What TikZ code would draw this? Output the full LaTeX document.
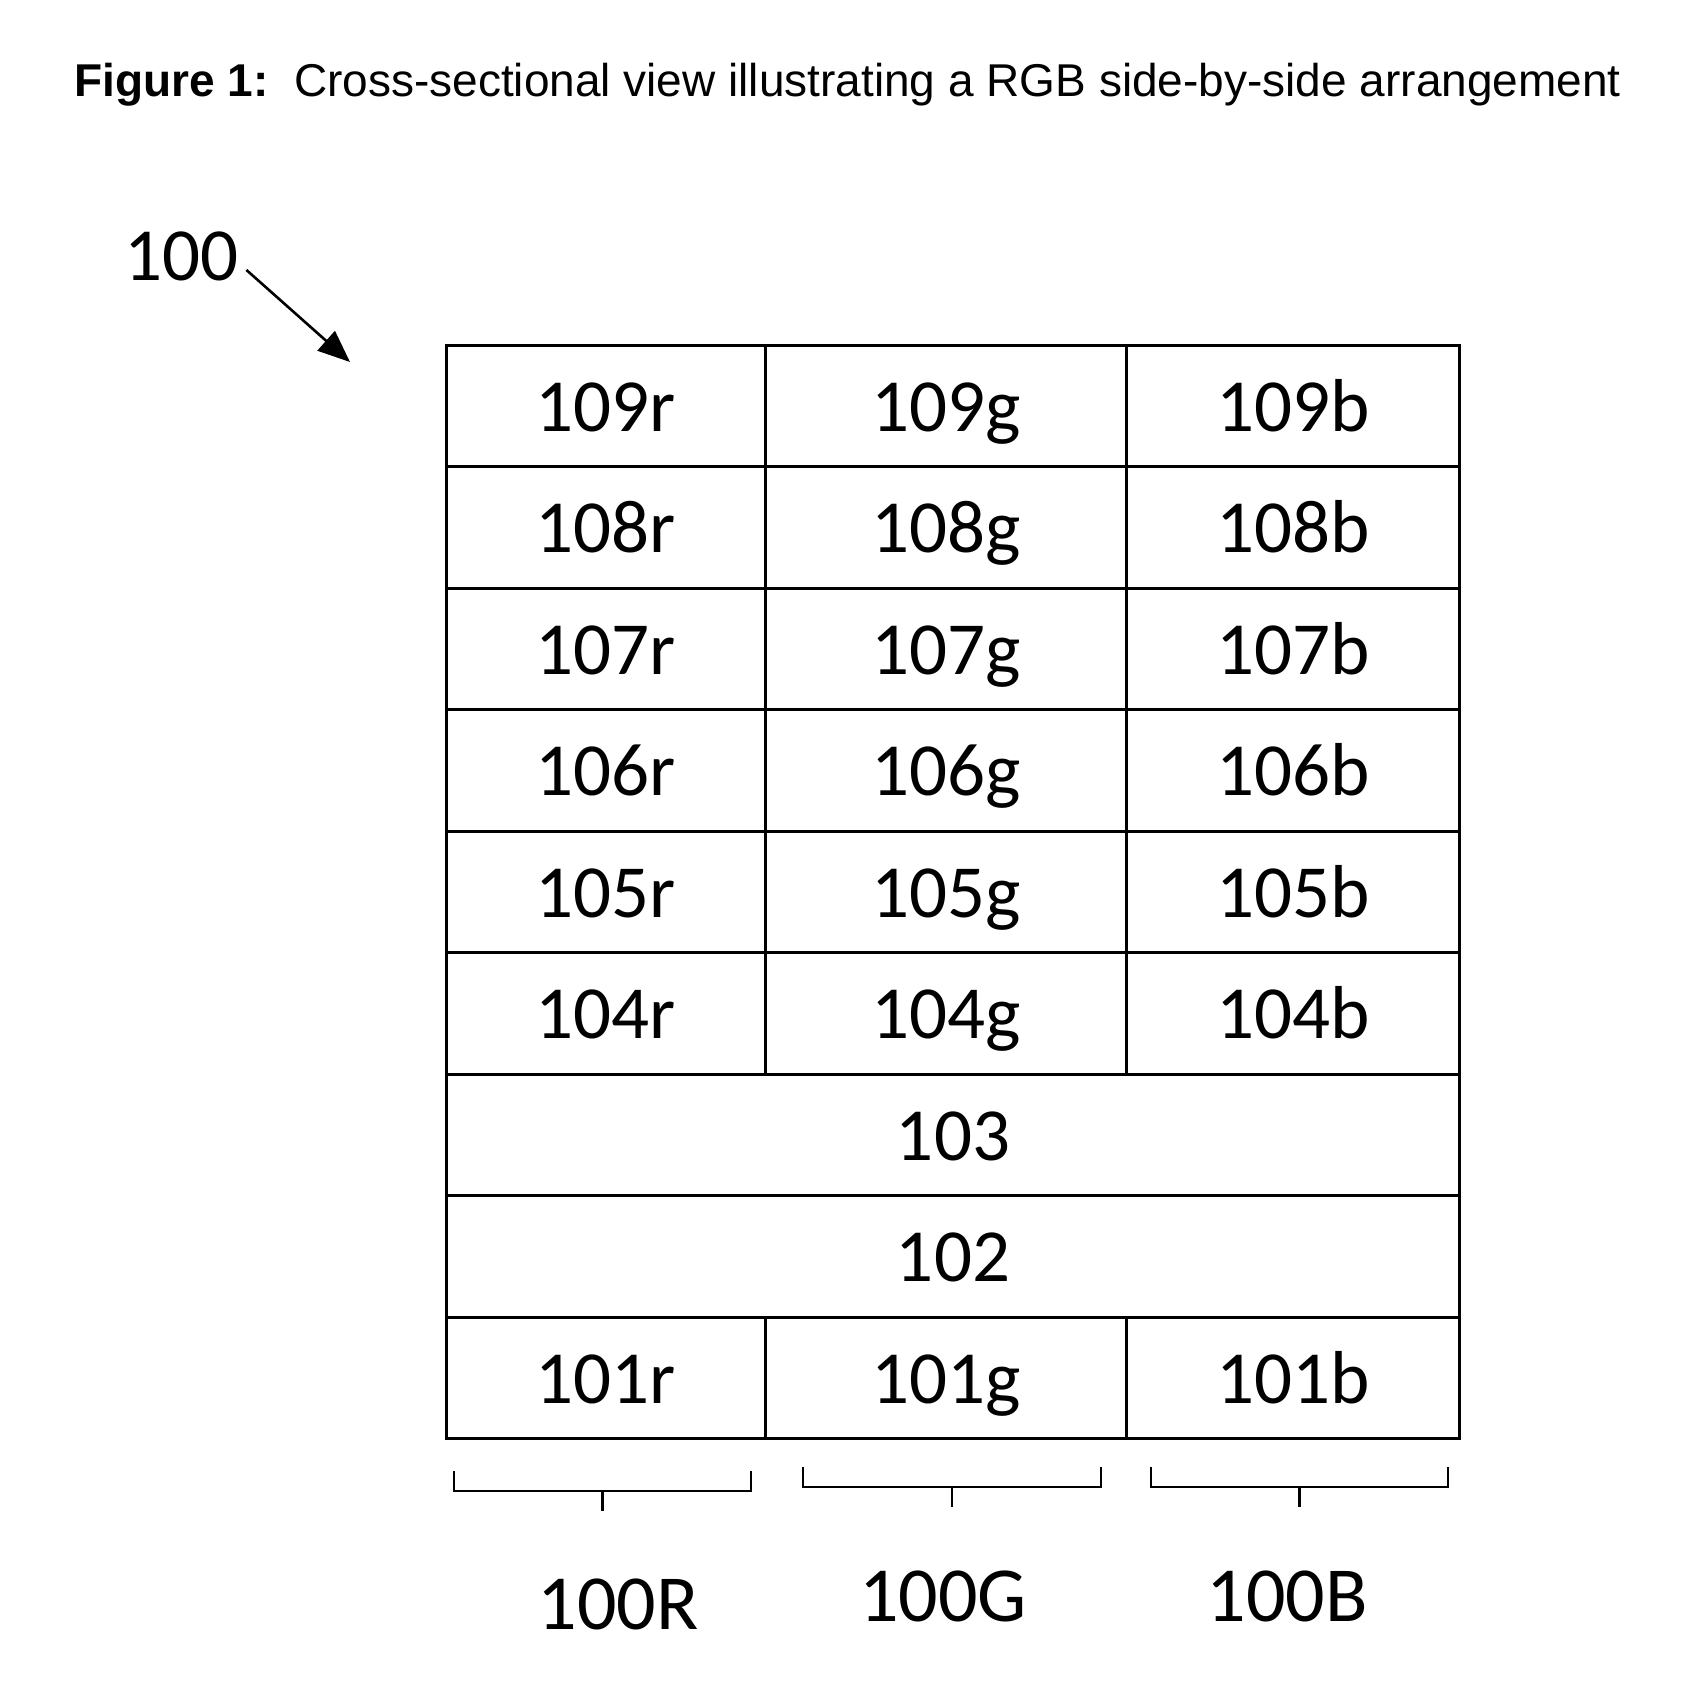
\documentclass[tikz,border=0pt]{standalone}
\usepackage{fontspec}
\setmainfont{Carlito}
\newfontfamily\titlefont{Liberation Sans}
\usetikzlibrary{arrows.meta}
\begin{document}
\begin{tikzpicture}[x=1pt,y=-1pt,
  cell/.style={draw, line width=3pt, rectangle, inner sep=0pt, minimum height=121.44pt,
    text height=55pt, text depth=4.4pt,
    font=\fontsize{75}{90}\selectfont, anchor=north west},
  brace/.style={line width=2.6pt},
  lbl/.style={font=\fontsize{78}{90}\selectfont, anchor=base}]
\useasboundingbox (0,0) rectangle (1706,1699);
\node[anchor=base west, inner sep=0pt, font=\titlefont\fontsize{46}{54}\selectfont] (title) at (74,97)
  {\textbf{Figure 1:}\ \ Cross-sectional view illustrating a RGB side-by-side arrangement};
% grid
\def\rh{121.44}
\foreach \n [count=\i from 0] in {109,108,107,106,105,104} {
  \node[cell, minimum width=319pt] (c\n r) at (445,{344+\i*\rh}) {\n r};
  \node[cell, minimum width=361pt] (c\n g) at (764,{344+\i*\rh}) {\n g};
  \node[cell, minimum width=333pt] (c\n b) at (1125,{344+\i*\rh}) {\n b};
}
\node[cell, minimum width=1013pt] (c103) at (445,{344+6*\rh}) {103};
\node[cell, minimum width=1013pt] (c102) at (445,{344+7*\rh}) {102};
\node[cell, minimum width=319pt] (c101r) at (445,{344+8*\rh}) {101r};
\node[cell, minimum width=361pt] (c101g) at (764,{344+8*\rh}) {101g};
\node[cell, minimum width=333pt] (c101b) at (1125,{344+8*\rh}) {101b};
% label 100 and arrow
\node[anchor=base west, inner sep=0pt, font=\fontsize{75}{90}\selectfont] (l100) at (124,280) {100};
\coordinate (a100) at (350,362);
\draw[line width=2.6pt, -{Triangle[length=32pt,width=26pt]}] (l100.base east) ++(8,-10) coordinate (s100) -- (a100);
% braces
\foreach \nm/\l/\r/\t/\hh in {R/454/751/1471/1491, G/803/1101/1467/1487, B/1151/1448/1467/1487} {
  \coordinate (b\nm l) at (\l,\t);
  \coordinate (b\nm r) at (\r,\t);
  \coordinate (b\nm m) at ({(\l+\r)/2},\hh);
  \draw[brace] (b\nm l) |- (b\nm m) -| (b\nm r);
  \draw[brace] (b\nm m) -- ++(0,20);
}
\node[lbl] (lR) at (618,1629) {100R};
\node[lbl] (lG) at (943,1621) {100G};
\node[lbl] (lB) at (1287,1621) {100B};
\end{tikzpicture}
\end{document}
